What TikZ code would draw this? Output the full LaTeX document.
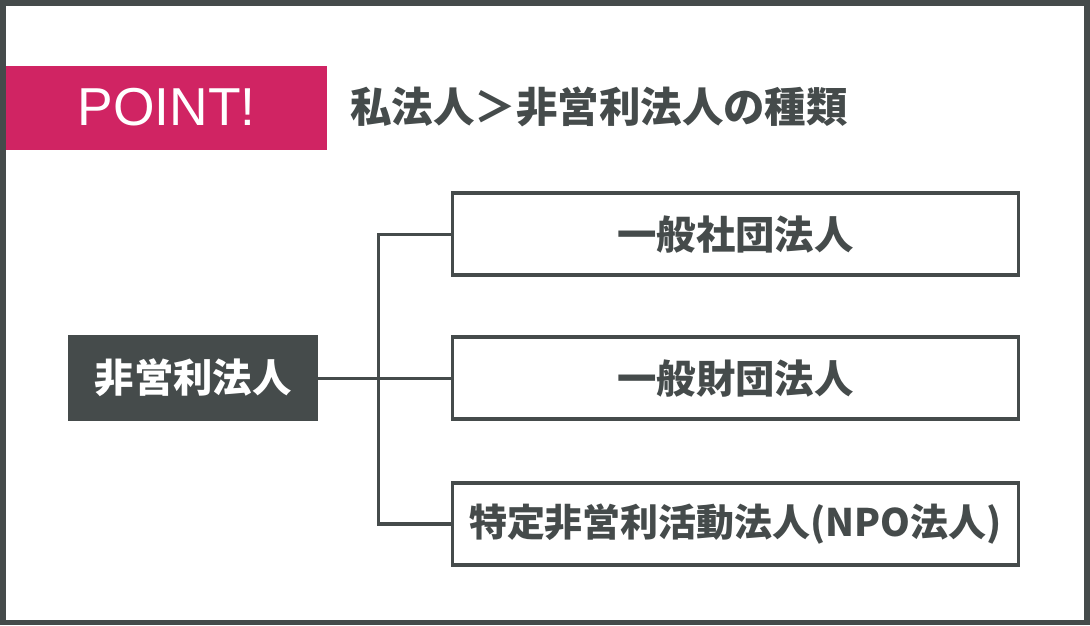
\documentclass[tikz,border=0pt]{standalone}
\usepackage{fontspec}
\setmainfont{Liberation Sans}
\newfontfamily\cjk{Noto Sans CJK JP}
\usetikzlibrary{positioning}
\definecolor{frameGray}{HTML}{454B4B}
\definecolor{pointRed}{HTML}{D02463}
\tikzset{
  kind/.style={draw=frameGray, line width=2.5pt, fill=white, minimum width=14.15cm,
    minimum height=2.05cm, font=\cjk\bfseries\fontsize{28}{28}\selectfont, text=frameGray},
  branch/.style={draw=frameGray, line width=2.2pt}
}
\begin{document}
\begin{tikzpicture}[x=0.025cm,y=-0.025cm]
  % Frame
  \fill[white] (0,0) rectangle (1090,625);
  \draw[frameGray, line width=4pt] (2.5,2.5) rectangle (1087.5,622.5);
  \useasboundingbox (0,0) rectangle (1090,625);

  % Heading
  \node[fill=pointRed, minimum width=8.05cm, minimum height=2.1cm, text=white,
    font=\fontsize{38}{38}\selectfont, anchor=north west] (point) at (5,65) {POINT!};
  \node[anchor=west, text=frameGray, font=\cjk\bfseries\fontsize{29.5}{30}\selectfont, inner sep=0pt]
    (title) at (350,107) {私法人＞非営利法人の種類};

  % Root
  \node[fill=frameGray, minimum width=6.25cm, minimum height=2.15cm, text=white,
    font=\cjk\bfseries\fontsize{28}{28}\selectfont] (npo) at (193,378) {非営利法人};

  % Kinds
  \node[kind] (shadan) at (735.5,234) {一般社団法人};
  \node[kind] (zaidan) at (735.5,378) {一般財団法人};
  \node[kind, font=\cjk\bfseries\fontsize{27}{27}\selectfont] (tokutei) at (735.5,524) {特定非営利活動法人(NPO法人)};

  % Connectors
  \coordinate (fork) at (378,378);
  \draw[branch] (npo.east) -- (zaidan.west);
  \draw[branch] (shadan.west) -| (fork) |- (tokutei.west);
\end{tikzpicture}
\end{document}
